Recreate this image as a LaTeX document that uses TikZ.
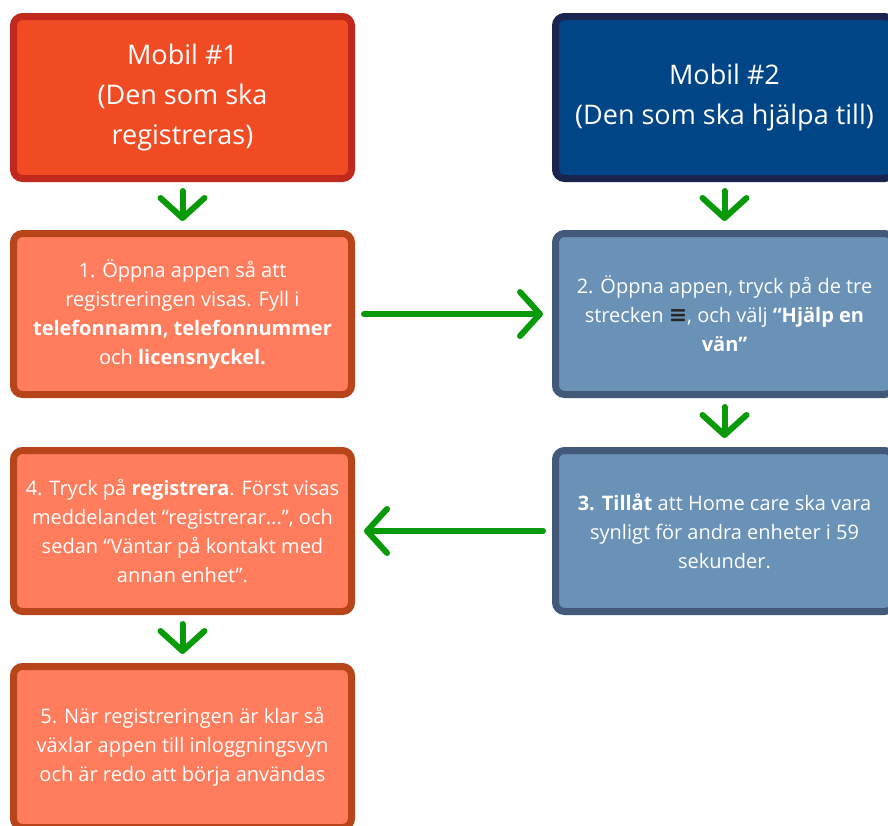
\documentclass[tikz,border=0pt]{standalone}
\usepackage{fontspec}
\setmainfont{Open Sans}
\newfontfamily\symfont{DejaVu Sans}
\usetikzlibrary{positioning,arrows.meta}

\definecolor{redfill}{HTML}{F04B23}
\definecolor{reddraw}{HTML}{C0291B}
\definecolor{navyfill}{HTML}{004585}
\definecolor{navydraw}{HTML}{1B234F}
\definecolor{orangefill}{HTML}{FF7C5C}
\definecolor{orangedraw}{HTML}{B8441A}
\definecolor{bluefill}{HTML}{6A91B6}
\definecolor{bluedraw}{HTML}{43597A}
\definecolor{arrowgreen}{HTML}{089A08}

\begin{document}
\begin{tikzpicture}[x=1pt,y=-1pt,node distance=48pt and 197pt,
                box/.style={rectangle, rounded corners=9pt, line width=7pt,
                  minimum width=338pt, minimum height=161pt, align=center,
                  text=white, font=\fontsize{20}{29}\selectfont},
                head node/.style={box, minimum height=162pt,
                  font=\fontsize{27}{40}\selectfont},
                red node/.style={fill=orangefill, draw=orangedraw},
                blue node/.style={fill=bluefill, draw=bluedraw},
                go/.style={draw=arrowgreen, line width=6pt, line cap=round,
                  -{Straight Barb[length=20pt,width=44pt,line cap=round,line join=round]},
                  shorten <=9pt, shorten >=9pt}]

  \useasboundingbox (0,0) rectangle (888,825);
  \clip (0,0) rectangle (888,825);

  \node[head node, fill=redfill, draw=reddraw] (m1) at (182.5,97.5)
    {Mobil \#1\\(Den som ska\\registreras)};
  \node[head node, fill=navyfill, draw=navydraw] (m2) [right=of m1]
    {Mobil \#2\\(Den som ska hjälpa till)};

  \node[box, red node] (s1) [below=of m1]
    {1. Öppna appen så att\\registreringen visas. Fyll i\\\textbf{telefonnamn, telefonnummer}\\och \textbf{licensnyckel.}};
  \node[box, blue node] (s2) [below=of m2]
    {2. Öppna appen, tryck på de tre\\strecken {\symfont\bfseries\fontsize{22}{29}\selectfont\color{black!85}≡}, och välj \textbf{“Hjälp en}\\\textbf{vän”}};
  \node[box, blue node] (s3) [below=49pt of s2]
    {\textbf{3. Tillåt} att Home care ska vara\\synligt för andra enheter i 59\\sekunder.};
  \node[box, red node] (s4) [below=49pt of s1]
    {4. Tryck på \textbf{registrera}. Först visas\\meddelandet “registrerar...”, och\\sedan “Väntar på kontakt med\\annan enhet”.};
  \node[box, red node] (s5) [below=of s4]
    {5. När registreringen är klar så\\växlar appen till inloggningsvyn\\och är redo att börja användas};

  \path
    (m1) edge [go] (s1)
    (m2) edge [go] (s2)
    (s1) edge [go] (s2)
    (s2) edge [go] (s3)
    (s3) edge [go] (s4)
    (s4) edge [go] (s5);
\end{tikzpicture}
\end{document}
